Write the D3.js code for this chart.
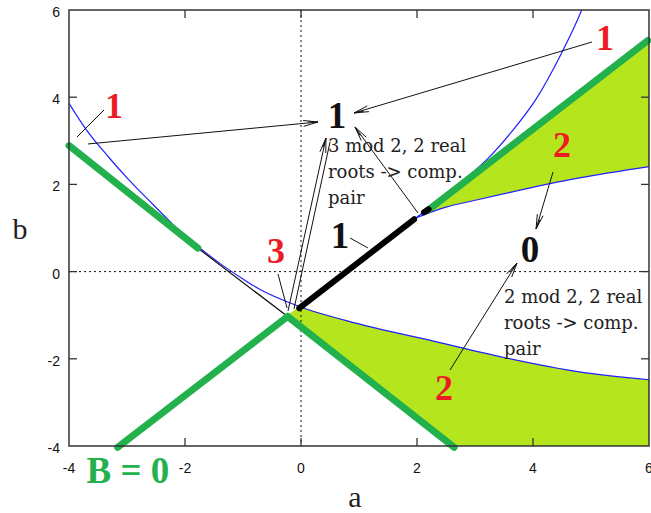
<!DOCTYPE html>
<html>
<head>
<meta charset="utf-8">
<script src="https://cdn.jsdelivr.net/npm/d3@7"></script>
<style>
  body { margin: 0; background: #fff; }
  .tick-label { font-family: "Liberation Sans", Arial, sans-serif; font-size: 14px; fill: #111; }
  .axis-title { font-family: "Liberation Serif", serif; font-size: 30px; fill: #222; }
  .red { font-family: "Liberation Serif", serif; font-weight: bold; font-size: 36px; fill: #ed1c24; }
  .big { font-family: "Liberation Serif", serif; font-weight: bold; font-size: 37px; fill: #111; }
  .note { font-family: "DejaVu Serif", serif; font-size: 18px; fill: #222; }
  .bzero { font-family: "Liberation Serif", serif; font-weight: bold; font-size: 37px; fill: #22b14c; }
</style>
</head>
<body>
<svg id="chart" width="651" height="513"></svg>
<script>
// axis ticks
const xTicks = [-4, -2, 0, 2, 4, 6];
const yTicks = [-4, -2, 0, 2, 4, 6];

// blue discriminant curves
const blueLeft = [[-4, 3.86], [-3.7, 3.25], [-3.3, 2.6], [-3.0, 2.15], [-2.56, 1.55], [-2.2, 1.07],
                  [-1.8, 0.6], [-1.41, 0.2], [-1.0, -0.17], [-0.72, -0.4], [-0.03, -0.8], [1.0, -1.2],
                  [2.3, -1.6], [3.5, -1.97], [4.8, -2.3], [6, -2.48]];
const blueUpper = [[1.98, 1.23], [2.87, 2.17], [3.25, 2.63], [3.64, 3.22], [4.05, 3.95], [4.45, 4.9], [4.84, 6.0], [4.9, 6.2]];
const blueFlat = [[1.98, 1.23], [2.5, 1.48], [2.95, 1.62], [4.8, 2.15], [6, 2.41]];

// B = 0 lines (thick green) and the pieces drawn in black
const greenSegs = [
  [[-4, 2.89], [-1.78, 0.54]],
  [[-0.23, -1.03], [2.64, -4.03]],
  [[-3.16, -4.03], [-0.23, -1.03]],
  [[2.2, 1.42], [5.98, 5.3]]
];
const thinBlackSegs = [[[-1.78, 0.54], [-0.23, -1.03]]];
const thickBlackSegs = [[[-0.03, -0.84], [1.95, 1.2]], [[2.12, 1.36], [2.2, 1.43]]];

// annotation arrows: a1, b1, a2, b2, has head
const arrows = [
  [-3.862, 3.087, -3.397, 3.706, false],
  [-3.672, 2.927, 0.293, 3.431, true],
  [5.017, 5.266, 0.914, 3.638, true],
  [4.345, 2.284, 4.052, 0.977, true],
  [2.569, -2.257, 3.724, 0.197, true],
  [-0.224, -0.904, 0.431, 3.064, true],
  [-0.121, -0.858, 0.5, 2.972, false],
  [-0.397, -0.055, -0.241, -0.835, false],
  [2.017, 1.344, 0.931, 3.317, true],
  [0.845, 0.771, 1.155, 0.541, false]
];

// text labels: text, a, b, kind
const labels = [
  ["1", -3.224, 3.523, "red"],
  ["1", 5.241, 5.083, "red"],
  ["2", 4.5, 2.628, "red"],
  ["3", -0.431, 0.197, "red"],
  ["2", 2.466, -2.945, "red"],
  ["1", 0.621, 3.294, "big"],
  ["1", 0.672, 0.541, "big"],
  ["0", 3.948, 0.22, "big"],
  ["B = 0", -2.983, -4.849, "bzero"]
];
const notes = [
  [["3 mod 2, 2 real", "roots -> comp.", "pair"], 0.466, 2.743],
  [["2 mod 2, 2 real", "roots -> comp.", "pair"], 3.5, -0.72]
];

const svg = d3.select('#chart');
const x = d3.scaleLinear().domain([-4, 6]).range([69, 649]);
const y = d3.scaleLinear().domain([-4, 6]).range([446, 10]);

svg.append("defs").append("clipPath").attr("id", "plot")
   .append("rect").attr("x", 69).attr("y", 10).attr("width", 580).attr("height", 436);

const curve = d3.line().x(d => x(d[0])).y(d => y(d[1])).curve(d3.curveMonotoneX);
const straight = d3.line().x(d => x(d[0])).y(d => y(d[1]));
const pt = d => `L${x(d[0])},${y(d[1])}`;

// filled regions
const lime = "#b5e61d";
const upperFill = curve(blueFlat) + pt([6, 5.3]) + pt([1.98, 1.2]) + "Z";
const lowerBlue = blueLeft.filter(d => d[0] >= -0.03);
const lowerFill = curve(lowerBlue) + pt([6, -4]) + pt([2.64, -4]) + pt([-0.23, -1.0]) + "Z";
const plot = svg.append("g").attr("clip-path", "url(#plot)");
plot.append("path").attr("d", upperFill).attr("fill", lime);
plot.append("path").attr("d", lowerFill).attr("fill", lime);

// blue curves
[blueLeft, blueUpper, blueFlat].forEach(c => {
  plot.append("path").attr("d", curve(c)).attr("fill", "none")
      .attr("stroke", "#1f1fff").attr("stroke-width", 1.2);
});

// dotted zero lines
svg.append("line").attr("x1", x(0)).attr("x2", x(0)).attr("y1", y(6)).attr("y2", y(-4))
   .attr("stroke", "#111").attr("stroke-dasharray", "2,3");
svg.append("line").attr("x1", x(-4)).attr("x2", x(6)).attr("y1", y(0)).attr("y2", y(0))
   .attr("stroke", "#111").attr("stroke-dasharray", "2,3");

// thin black part of B = 0
thinBlackSegs.forEach(s => {
  svg.append("path").attr("d", straight(s)).attr("stroke", "#111").attr("stroke-width", 1.2);
});

// arrows
const arrowG = svg.append("g").attr("stroke", "#111").attr("stroke-width", 1).attr("fill", "none");
arrows.forEach(([a1, b1, a2, b2, head]) => {
  const x1 = x(a1), y1 = y(b1), x2 = x(a2), y2 = y(b2);
  arrowG.append("line").attr("x1", x1).attr("y1", y1).attr("x2", x2).attr("y2", y2);
  if (head) {
    const ang = Math.atan2(y1 - y2, x1 - x2);
    [-0.2, 0.2, 0.1].forEach((da, i) => {
      const len = i === 2 ? 10 : 15;
      arrowG.append("line").attr("x1", x2).attr("y1", y2)
        .attr("x2", x2 + len * Math.cos(ang + da)).attr("y2", y2 + len * Math.sin(ang + da));
    });
  }
});

// thick green lines
greenSegs.forEach(s => {
  svg.append("path").attr("d", straight(s)).attr("stroke", "#22b14c")
     .attr("stroke-width", 7).attr("stroke-linecap", "round");
});
thickBlackSegs.forEach(s => {
  svg.append("path").attr("d", straight(s)).attr("stroke", "#000")
     .attr("stroke-width", 6).attr("stroke-linecap", "round");
});

// frame and ticks
svg.append("rect").attr("x", 69).attr("y", 10).attr("width", 580).attr("height", 436)
   .attr("fill", "none").attr("stroke", "#333").attr("stroke-width", 1.5);
const inner = [-2, 0, 2, 4];
const tickG = svg.append("g").attr("stroke", "#333").attr("stroke-width", 1.3);
inner.forEach(v => {
  tickG.append("line").attr("x1", x(v)).attr("x2", x(v)).attr("y1", y(-4)).attr("y2", y(-4) - 8);
  tickG.append("line").attr("x1", x(v)).attr("x2", x(v)).attr("y1", y(6)).attr("y2", y(6) + 8);
  tickG.append("line").attr("y1", y(v)).attr("y2", y(v)).attr("x1", x(-4)).attr("x2", x(-4) + 8);
  tickG.append("line").attr("y1", y(v)).attr("y2", y(v)).attr("x1", x(6)).attr("x2", x(6) - 8);
});
svg.selectAll(".xt").data(xTicks).enter().append("text").attr("class", "tick-label")
   .attr("x", d => x(d)).attr("y", 473).attr("text-anchor", "middle").text(d => d);
svg.selectAll(".yt").data(yTicks).enter().append("text").attr("class", "tick-label")
   .attr("x", 60).attr("y", d => y(d) + 7).attr("text-anchor", "end").text(d => d);

svg.append("text").attr("class", "axis-title").attr("x", 355).attr("y", 507)
   .attr("text-anchor", "middle").text("a");
svg.append("text").attr("class", "axis-title").attr("x", 20).attr("y", 239)
   .attr("text-anchor", "middle").text("b");

// labels
labels.forEach(([t, a, b, kind]) => {
  svg.append("text").attr("class", kind).attr("x", x(a)).attr("y", y(b))
     .attr("text-anchor", "middle").text(t);
});
notes.forEach(([lines, a, b]) => {
  const t = svg.append("text").attr("class", "note").attr("x", x(a)).attr("y", y(b));
  lines.forEach((l, i) => {
    t.append("tspan").attr("x", x(a)).attr("dy", i === 0 ? 0 : 26).text(l);
  });
});
</script>
</body>
</html>
